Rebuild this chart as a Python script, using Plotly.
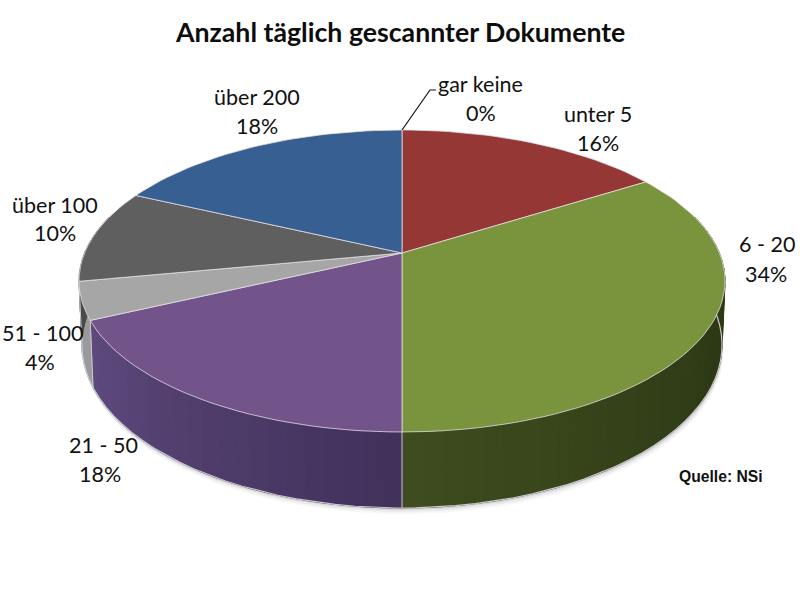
import math
import plotly.graph_objects as go

# --- data ---
TITLE = "Anzahl täglich gescannter Dokumente"
SOURCE = "Quelle: NSi"
categories = ["gar keine", "unter 5", "6 - 20", "21 - 50", "51 - 100", "über 100", "über 200"]
percents = [0, 16, 34, 18, 4, 10, 18]

# --- styles, one per category ---
top_colors = ["#953735", "#953735", "#7a933d", "#72548b", "#a6a6a6", "#5f5f5f", "#375f91"]
wall_near = ["#5a2020", "#5a2020", "#3f4c1f", "#40305a", "#8a8a8a", "#4a4a4a", "#25406a"]
wall_far = ["#5a2020", "#5a2020", "#2d3914", "#5f4a7e", "#9a9a9a", "#4a4a4a", "#25406a"]

# --- label placement (pixel centres of the two text lines) ---
name_xy = [(480, 84), (598, 114), (767, 244), (103, 445), (42, 333), (55, 205), (257, 97)]
pct_xy = [(481, 113), (598, 143), (766, 274), (100, 474), (40, 362), (55, 233), (257, 126)]

# --- geometry of the tilted, perspective pie ---
CX = 402
K = 0.1854
TOP = dict(y0=253, a=317.4, b=145.8)
BOT = dict(y0=314.8, a=314.5, b=157.4)


def project(theta_deg, plane):
    t = math.radians(theta_deg)
    u, v = math.sin(t), math.cos(t)
    d = 1 + K * v
    return CX + plane["a"] * u / d, plane["y0"] - plane["b"] * v / d


def frange(a, b, step):
    n = max(1, int(math.ceil((b - a) / step)))
    return [a + (b - a) * i / n for i in range(n + 1)]


def mix(c1, c2, f):
    p = [int(c1[i:i + 2], 16) for i in (1, 3, 5)]
    q = [int(c2[i:i + 2], 16) for i in (1, 3, 5)]
    return "rgb(%d,%d,%d)" % tuple(round(x + (y - x) * f) for x, y in zip(p, q))


fig = go.Figure()


def poly(xs, ys, fill, line=None, width=1):
    fig.add_trace(go.Scatter(
        x=xs, y=ys, mode="lines", fill="toself", fillcolor=fill,
        line=dict(color=line or fill, width=width), hoverinfo="skip", showlegend=False))


def stroke(xs, ys, color, width=1):
    fig.add_trace(go.Scatter(
        x=xs, y=ys, mode="lines", line=dict(color=color, width=width),
        hoverinfo="skip", showlegend=False))


# slice angles
edges = [0]
for p in percents:
    edges.append(edges[-1] + p * 3.6)

# soft shadow under the body
ring = frange(60, 300, 3)
for off, alpha in ((6, 0.05), (4, 0.08), (2, 0.14)):
    pts = [project(a, BOT) for a in ring]
    poly([x + off * 0.25 for x, _ in pts], [y + off for _, y in pts], f"rgba(90,90,90,{alpha})", "rgba(0,0,0,0)")

# side walls, built as narrow bands so they can shade
for i, p in enumerate(percents):
    if p == 0:
        continue
    lo, hi = edges[i], edges[i + 1]
    lo_v, hi_v = max(lo, 75), min(hi, 285)
    if lo_v >= hi_v:
        continue
    steps = frange(lo_v, hi_v, 3)
    for a, b in zip(steps, steps[1:]):
        f = min(1, abs((a + b) / 2 - 180) / 65)
        col = mix(wall_near[i], wall_far[i], f)
        p1, p2, p3, p4 = project(a, TOP), project(b, TOP), project(b, BOT), project(a, BOT)
        poly([p1[0], p2[0], p3[0], p4[0], p1[0]], [p1[1], p2[1], p3[1], p4[1], p1[1]], col)

# light rim along the bottom edge
pts = [project(a, BOT) for a in frange(85, 262, 3)]
stroke([x for x, _ in pts], [y for _, y in pts], "#c9c9cf", 1.2)

# dividers on the wall
for e in edges[1:-1]:
    if 120 < e < 285:
        a, b = project(e, TOP), project(e, BOT)
        stroke([a[0], b[0]], [a[1], b[1]], "#c9c9cf", 1)

# top faces
cx0, cy0 = CX, TOP["y0"]
for i, p in enumerate(percents):
    if p == 0:
        continue
    pts = [project(a, TOP) for a in frange(edges[i], edges[i + 1], 2)]
    xs = [cx0] + [x for x, _ in pts] + [cx0]
    ys = [cy0] + [y for _, y in pts] + [cy0]
    poly(xs, ys, top_colors[i], "rgba(232,226,232,0.75)", 1)

# leader line for the empty slice
stroke([402, 430, 436], [130, 90, 90], "#111111", 1.2)

annotations = [dict(x=400, y=32, text=f"<b>{TITLE}</b>", showarrow=False, xanchor="center", yanchor="middle",
                    font=dict(family="Lato", size=26.7, color="#0d0d0d"))]
for c, p, nxy, pxy in zip(categories, percents, name_xy, pct_xy):
    for text, xy in ((c, nxy), (f"{p}%", pxy)):
        annotations.append(dict(x=xy[0], y=xy[1], text=text, showarrow=False, xanchor="center", yanchor="middle",
                                font=dict(family="Lato", size=21.5, color="#111111")))
annotations.append(dict(x=721, y=476, text=f"<b>{SOURCE}</b>", showarrow=False, xanchor="center", yanchor="middle",
                        font=dict(family="Liberation Sans", size=15.7, color="#111111")))

fig.update_layout(
    width=800, height=600, margin=dict(l=0, r=0, t=0, b=0),
    paper_bgcolor="white", plot_bgcolor="white", showlegend=False,
    xaxis=dict(range=[0, 800], visible=False, fixedrange=True),
    yaxis=dict(range=[600, 0], visible=False, fixedrange=True),
    annotations=annotations,
)
# drop the page body's default 8 px margin so the 800x600 plot fills the window
fig.write_html("out.html", config=dict(displayModeBar=False),
               post_script="document.body.style.margin='0';document.documentElement.style.overflow='hidden';")
